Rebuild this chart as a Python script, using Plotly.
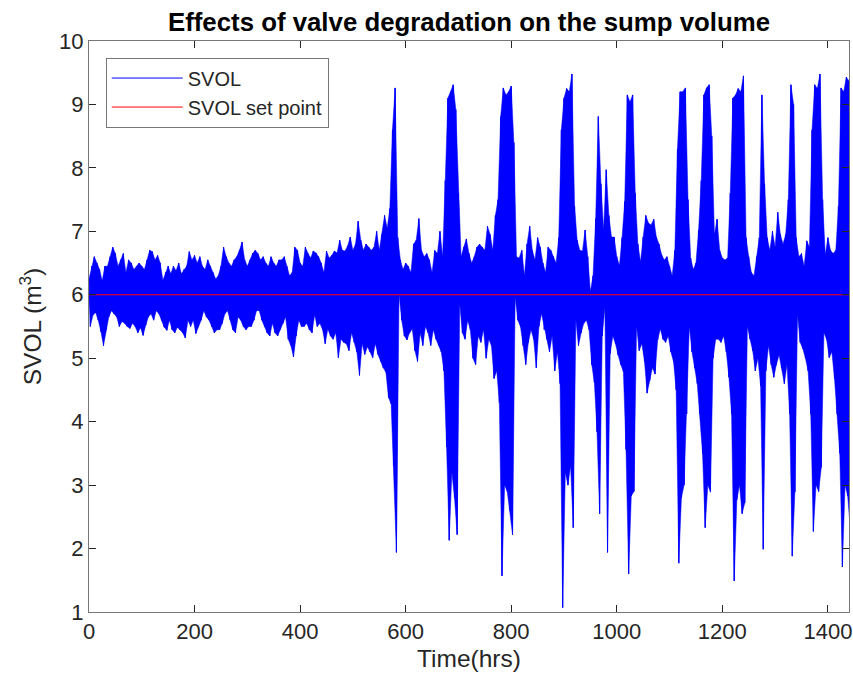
import plotly.graph_objects as go

# sample times (hrs), one envelope reading every 5 hrs
time_hrs = [
    0, 5, 10, 15, 20, 25, 30, 35, 40, 45, 50, 55, 60, 65, 70, 75, 80, 85, 90, 95,
    100, 105, 110, 115, 120, 125, 130, 135, 140, 145, 150, 155, 160, 165, 170, 175, 180, 185, 190, 195,
    200, 205, 210, 215, 220, 225, 230, 235, 240, 245, 250, 255, 260, 265, 270, 275, 280, 285, 290, 295,
    300, 305, 310, 315, 320, 325, 330, 335, 340, 345, 350, 355, 360, 365, 370, 375, 380, 385, 390, 395,
    400, 405, 410, 415, 420, 425, 430, 435, 440, 445, 450, 455, 460, 465, 470, 475, 480, 485, 490, 495,
    500, 505, 510, 515, 520, 525, 530, 535, 540, 545, 550, 555, 560, 565, 570, 575, 580, 585, 590, 595,
    600, 605, 610, 615, 620, 625, 630, 635, 640, 645, 650, 655, 660, 665, 670, 675, 680, 685, 690, 695,
    700, 705, 710, 715, 720, 725, 730, 735, 740, 745, 750, 755, 760, 765, 770, 775, 780, 785, 790, 795,
    800, 805, 810, 815, 820, 825, 830, 835, 840, 845, 850, 855, 860, 865, 870, 875, 880, 885, 890, 895,
    900, 905, 910, 915, 920, 925, 930, 935, 940, 945, 950, 955, 960, 965, 970, 975, 980, 985, 990, 995,
    1000, 1005, 1010, 1015, 1020, 1025, 1030, 1035, 1040, 1045, 1050, 1055, 1060, 1065, 1070, 1075, 1080, 1085, 1090, 1095,
    1100, 1105, 1110, 1115, 1120, 1125, 1130, 1135, 1140, 1145, 1150, 1155, 1160, 1165, 1170, 1175, 1180, 1185, 1190, 1195,
    1200, 1205, 1210, 1215, 1220, 1225, 1230, 1235, 1240, 1245, 1250, 1255, 1260, 1265, 1270, 1275, 1280, 1285, 1290, 1295,
    1300, 1305, 1310, 1315, 1320, 1325, 1330, 1335, 1340, 1345, 1350, 1355, 1360, 1365, 1370, 1375, 1380, 1385, 1390, 1395,
    1400, 1405, 1410, 1415, 1420, 1425, 1430, 1435, 1440,
]

# upper swing of SVOL in each 5 hr window (m3)
svol_high = [
    6.25, 6.45, 6.6, 6.5, 6.4, 6.22, 6.45, 6.45, 6.6, 6.75, 6.65, 6.45, 6.55, 6.65, 6.35, 6.55, 6.5, 6.4, 6.45, 6.5,
    6.45, 6.4, 6.55, 6.7, 6.68, 6.55, 6.62, 6.5, 6.23, 6.35, 6.45, 6.33, 6.45, 6.38, 6.5, 6.33, 6.4, 6.45, 6.68, 6.55,
    6.62, 6.5, 6.6, 6.45, 6.4, 6.55, 6.45, 6.35, 6.25, 6.3, 6.45, 6.75, 6.6, 6.5, 6.45, 6.55, 6.6, 6.7, 6.83, 6.55,
    6.45, 6.55, 6.65, 6.7, 6.65, 6.55, 6.6, 6.5, 6.45, 6.6, 6.5, 6.45, 6.55, 6.55, 6.6, 6.45, 6.3, 6.35, 6.75, 6.7,
    6.5, 6.45, 6.75, 6.65, 6.58, 6.69, 6.66, 6.6, 6.5, 6.35, 6.69, 6.58, 6.62, 6.69, 6.66, 6.86, 6.7, 6.69, 6.77, 6.91,
    6.7, 6.8, 7.16, 6.86, 6.7, 6.8, 6.75, 6.7, 6.75, 7.0, 6.7, 6.95, 7.25, 7.05, 7.36, 8.6, 9.26, 6.9, 6.55, 6.4,
    6.5, 6.45, 6.35, 6.8, 6.86, 7.2, 6.7, 6.6, 6.65, 6.55, 6.35, 6.7, 6.65, 7.0, 6.6, 7.8, 9.1, 9.2, 9.31, 8.92,
    7.6, 6.6, 6.75, 6.88, 6.65, 6.5, 6.6, 6.75, 6.8, 6.75, 6.7, 7.08, 6.95, 6.7, 7.25, 7.5, 8.81, 9.26, 9.15, 9.2,
    9.29, 8.4, 6.6, 6.58, 6.7, 6.3, 6.8, 7.08, 6.7, 6.55, 6.9, 6.75, 6.5, 6.35, 6.75, 6.7, 6.6, 6.5, 6.9, 8.6,
    9.1, 9.25, 9.2, 9.48, 7.4, 6.86, 6.7, 6.69, 7.02, 6.6, 6.05, 6.3, 7.2, 8.81, 7.75, 7.02, 7.97, 7.25, 6.91, 6.91,
    6.6, 6.46, 6.9, 7.47, 9.15, 9.04, 9.15, 7.6, 6.8, 6.52, 6.91, 7.25, 7.13, 7.1, 7.19, 6.91, 6.8, 6.63, 6.55, 6.6,
    6.45, 6.3, 6.7, 8.3, 9.2, 9.2, 9.26, 7.5, 6.58, 6.4, 6.5, 7.02, 7.8, 9.15, 9.26, 9.31, 8.5, 6.95, 7.19, 6.7,
    6.58, 6.55, 6.58, 7.6, 9.1, 9.15, 9.25, 9.2, 9.45, 6.9, 6.6, 6.35, 6.3, 6.6, 6.9, 9.15, 7.75, 6.9, 6.7, 7.0,
    6.75, 7.3, 6.95, 6.8, 6.95, 7.5, 9.31, 9.0, 6.9, 6.6, 6.65, 6.45, 6.85, 6.75, 8.6, 9.31, 9.25, 9.48, 7.5, 6.63,
    6.9, 6.7, 6.65, 6.7, 7.4, 9.26, 9.2, 9.43, 9.37,
]

# lower swing of SVOL in each 5 hr window (m3)
svol_low = [
    5.5, 5.68, 5.72, 5.6, 5.42, 5.2, 5.45, 5.65, 5.75, 5.7, 5.65, 5.5, 5.58, 5.55, 5.5, 5.47, 5.55, 5.5, 5.4, 5.48,
    5.36, 5.52, 5.65, 5.7, 5.6, 5.75, 5.7, 5.6, 5.49, 5.44, 5.6, 5.45, 5.4, 5.49, 5.45, 5.4, 5.32, 5.6, 5.5, 5.6,
    5.39, 5.5, 5.6, 5.75, 5.65, 5.6, 5.5, 5.4, 5.45, 5.45, 5.55, 5.7, 5.75, 5.6, 5.45, 5.4, 5.65, 5.6, 5.5, 5.45,
    5.5, 5.5, 5.6, 5.75, 5.75, 5.6, 5.5, 5.4, 5.35, 5.55, 5.4, 5.35, 5.45, 5.55, 5.65, 5.3, 5.2, 5.02, 5.35, 5.6,
    5.5, 5.5, 5.55, 5.45, 5.4, 5.68, 5.5, 5.55, 5.45, 5.23, 5.46, 5.35, 5.3, 5.4, 5.01, 5.3, 5.25, 5.23, 5.12, 5.4,
    5.25, 5.1, 4.73, 5.23, 5.06, 5.18, 5.1, 5.01, 5.23, 5.06, 4.95, 4.85, 4.78, 4.38, 4.28, 3.3, 1.94, 6.0, 5.6, 5.35,
    5.29, 5.4, 5.46, 5.12, 4.95, 5.4, 5.2, 5.5, 5.4, 5.2, 5.45, 5.3, 5.2, 5.1, 4.8, 3.6, 2.13, 3.2, 2.8, 2.22,
    5.85, 5.4, 5.3, 5.6, 5.45, 5.0, 4.9, 5.35, 5.25, 5.45, 5.0, 5.3, 5.2, 4.68, 4.8, 4.3, 1.57, 3.0, 2.9, 2.6,
    2.22, 5.96, 5.6, 5.5, 5.2, 4.9, 5.25, 5.45, 5.3, 4.85, 5.5, 5.7, 5.45, 5.3, 5.1, 5.35, 4.8, 5.1, 4.6, 1.07,
    3.2, 3.0, 3.3, 2.33, 5.6, 5.2, 5.4, 5.55, 5.6, 5.45, 4.9, 4.62, 3.84, 2.55, 5.35, 5.8, 1.94, 5.07, 5.35, 5.23,
    5.05, 4.9, 4.79, 3.56, 1.6, 2.83, 2.9, 5.5, 5.12, 5.23, 4.95, 4.45, 4.65, 4.85, 4.75, 5.29, 5.46, 5.3, 5.25, 5.35,
    5.1, 4.95, 4.5, 1.77, 2.8, 3.0, 4.12, 5.5, 5.1, 4.85, 4.6, 4.12, 3.5, 2.33, 3.0, 2.89, 5.0, 5.3, 5.3, 5.25,
    5.35, 5.1, 4.7, 4.12, 1.49, 2.77, 3.0, 2.55, 2.72, 5.5, 5.3, 5.12, 4.8, 5.0, 4.56, 1.99, 4.8, 5.2, 4.9, 4.7,
    4.9, 5.05, 4.85, 4.6, 4.9, 4.12, 1.88, 2.89, 5.68, 5.25, 5.15, 5.0, 4.8, 4.12, 2.27, 3.0, 2.9, 3.28, 5.4, 5.3,
    5.01, 5.1, 4.68, 4.12, 3.5, 1.71, 3.0, 2.83, 2.3,
]

setpoint_time = [0, 1440]
setpoint_value = [6, 6]

x_ticks = [0, 200, 400, 600, 800, 1000, 1200, 1400]
y_ticks = [1, 2, 3, 4, 5, 6, 7, 8, 9, 10]

# the signal swings high/low inside every window: zigzag between the two
sig_x, sig_y = [], []
for t, hi, lo in zip(time_hrs, svol_high, svol_low):
    sig_x += [t, t + 2.5]
    sig_y += [hi, lo]

# solid band under the zigzag (upper swings forward, lower swings back)
band_x = list(time_hrs) + [t + 2.5 for t in time_hrs][::-1]
band_y = list(svol_high) + list(svol_low)[::-1]

font = "Liberation Sans, Arial, Helvetica, sans-serif"
axis_col = "#262626"
blue = "#0000ff"

fig = go.Figure()
fig.add_trace(go.Scatter(x=band_x, y=band_y, mode="lines", fill="toself",
                         fillcolor=blue, line=dict(color=blue, width=0.5),
                         showlegend=False, hoverinfo="skip"))
fig.add_trace(go.Scatter(x=sig_x, y=sig_y, mode="lines", name="SVOL",
                         line=dict(color=blue, width=1, simplify=False)))
fig.add_trace(go.Scatter(x=setpoint_time, y=setpoint_value, mode="lines", name="SVOL set point",
                         line=dict(color="#ff0000", width=1)))

fig.update_layout(
    width=853, height=680,
    margin=dict(l=89, r=4, t=41, b=68),
    paper_bgcolor="white", plot_bgcolor="white",
    font=dict(family=font, size=22, color=axis_col),
    title=dict(text="<b>Effects of valve degradation on the sump volume</b>",
               font=dict(family=font, size=25.8, color="black"),
               x=0.5, xref="paper", xanchor="center",
               y=1 - 22 / 680, yref="container", yanchor="middle"),
    legend=dict(x=0.022, y=0.971, xanchor="left", yanchor="top",
                bgcolor="white", bordercolor="#777777", borderwidth=1,
                font=dict(family=font, size=20, color=axis_col),
                itemwidth=71, tracegroupgap=0),
    showlegend=True,
)
fig.update_xaxes(range=[0, 1440], tickvals=x_ticks, ticks="inside", ticklen=7,
                 tickcolor=axis_col, showline=True, linecolor="#777777", linewidth=1,
                 mirror="ticks", showgrid=False, zeroline=False, automargin=False,
                 title=dict(text="Time(hrs)", font=dict(size=24.5), standoff=6))
fig.update_yaxes(range=[1, 10], tickvals=y_ticks, ticks="inside", ticklen=7,
                 tickcolor=axis_col, showline=True, linecolor="#777777", linewidth=1,
                 mirror="ticks", showgrid=False, zeroline=False, automargin=False,
                 title=dict(text="SVOL (m<sup>3</sup>)", font=dict(size=24.5), standoff=10))

# drop the browser's default 8px page margin so the figure fills the window
fig.write_html("out.html", config={"displayModeBar": False},
               post_script="document.body.style.margin='0';document.body.style.overflow='hidden';")
